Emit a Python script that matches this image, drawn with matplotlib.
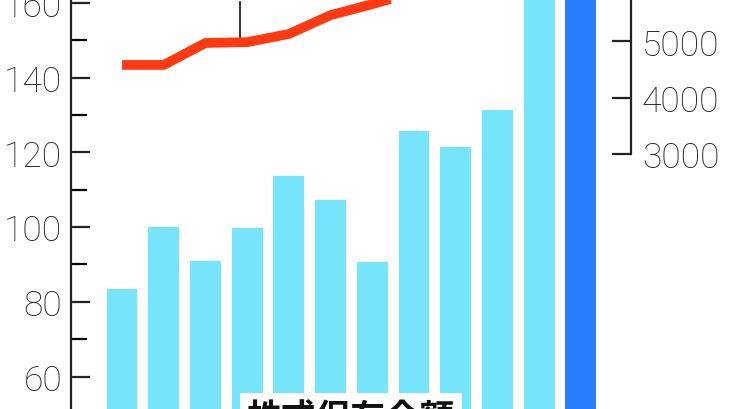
import matplotlib
matplotlib.use("Agg")
import numpy as np
import matplotlib.pyplot as plt
from matplotlib.ticker import MultipleLocator

# bar values (left axis) - last two bars run off the top of the crop
bar_vals = [83.5, 100.0, 90.9, 99.7, 113.6, 107.3, 90.6, 125.7, 121.4, 131.4, 175, 190]
bar_colors = ['#76e4fa'] * 11 + ['#2a7efb']
# line values (right axis)
line_vals = [4580, 4580, 4970, 4985, 5130, 5465, 5660, 5870, 6050, 6250, 6500, 6700]
left_ticks = [60, 80, 100, 120, 140, 160]
right_ticks = [3000, 4000, 5000]
label_text = '株式保有金額'

x = np.arange(len(bar_vals))

fig = plt.figure(figsize=(7.3, 4.1), dpi=100)
ax = fig.add_axes([0.0973, 0.0, 0.767, 1.0])
ax.bar(x, bar_vals, width=0.74, color=bar_colors, zorder=2)
ax.set_xlim(-1.223, 12.2)
ax.set_ylim(51.3, 161.07)
ax.set_yticks(left_ticks)
ax.yaxis.set_minor_locator(MultipleLocator(10))
ax.tick_params(axis='y', which='major', direction='in', length=14, width=1.6, pad=6.5,
               labelsize=25.5, colors='#222222')
ax.tick_params(axis='y', which='minor', direction='in', length=11.5, width=1.6)
ax.set_xticks([])
for s in ['top', 'right', 'bottom']:
    ax.spines[s].set_visible(False)
ax.spines['left'].set_linewidth(1.6)
ax.spines['left'].set_color('#222222')
for lab in ax.get_yticklabels():
    lab.set_family('Roboto')
    lab.set_fontweight('light')

ax2 = ax.twinx()
ax2.plot(x, line_vals, color='#ff3a12', lw=7, solid_joinstyle='round',
         solid_capstyle='butt', zorder=3)
# leader line of an annotation above the crop
ax2.plot([2.83, 2.83], [5040, 5700], color='#111111', lw=1.2)
ax2.set_ylim(-1531, 5751)
ax2.set_yticks(right_ticks)
ax2.tick_params(axis='y', direction='in', length=14, width=1.6, pad=8,
                labelsize=25.5, colors='#222222')
for s in ['top', 'left', 'bottom']:
    ax2.spines[s].set_visible(False)
ax2.spines['right'].set_bounds(3000, 5751)
ax2.spines['right'].set_linewidth(1.6)
ax2.spines['right'].set_color('#222222')
for lab in ax2.get_yticklabels():
    lab.set_family('Roboto')
    lab.set_fontweight('light')

fig.text(0.338, 0.022, label_text, family=['Noto Sans CJK JP', 'DejaVu Sans'],
         fontsize=25, fontweight='bold', ha='left', va='top', color='#111111',
         bbox=dict(facecolor='white', edgecolor='none', pad=5))

fig.savefig('out.png', dpi=100)
